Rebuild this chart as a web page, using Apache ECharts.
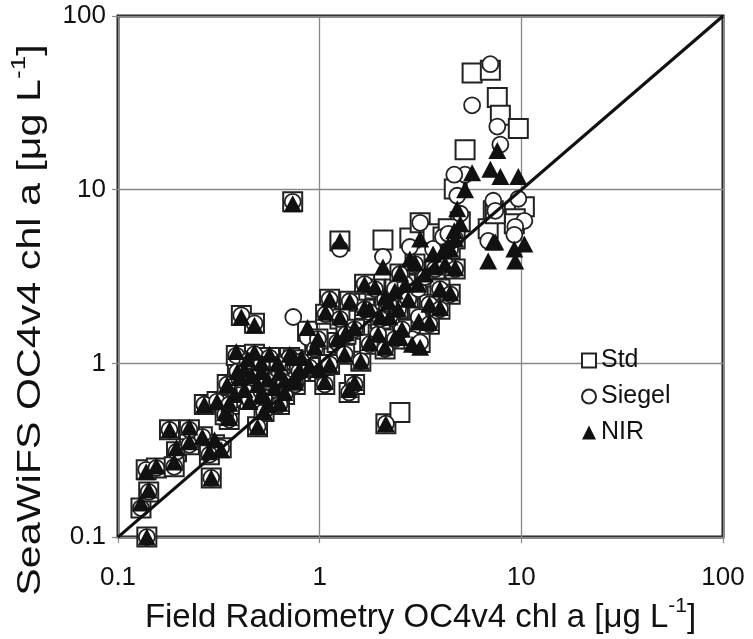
<!DOCTYPE html>
<html>
<head>
<meta charset="utf-8">
<script src="https://cdn.jsdelivr.net/npm/echarts@6/dist/echarts.min.js"></script>
<style>
html,body{margin:0;padding:0;background:#fff;}
#chart{width:753px;height:639px;}
</style>
</head>
<body>
<div id="chart"></div>
<script>
// Field radiometry OC4v4 chl a (x) for each station
const fieldChl = [
 0.098,0.130,0.139,0.142,0.138,0.155,0.180,0.195,0.190,0.226,
 0.262,0.290,0.301,0.325,0.268,0.310,0.284,0.356,0.378,0.409,
 0.475,0.348,0.424,0.449,0.514,0.551,0.391,0.386,0.475,0.564,
 0.710,0.813,0.424,0.514,0.632,0.752,0.492,0.597,0.670,0.735,
 0.740,0.871,0.945,1.00,1.06,1.12,1.41,1.26,1.22,1.60,
 1.40,1.49,1.77,1.95,2.13,2.50,2.06,2.80,3.15,3.65,
 4.09,4.98,7.26,1.67,1.88,2.11,2.36,2.45,2.75,3.08,
 3.33,3.73,4.19,3.10,2.87,3.15,2.56,3.95,4.44,4.70,
 5.26,5.70,7.02,7.60,7.87,9.66,4.81,4.65,4.34,6.85,
 10.35,9.33,9.23,7.43,0.98,1.33,1.12,2.22,2.66,3.50,
 0.492,0.530,
 1.07,1.26,1.49,1.35,1.67,2.00,2.20,1.77,2.11,2.36,
 3.50,3.95,4.44,4.70,2.97,2.50,
 0.439,0.514,0.620,0.400,0.460,0.551,0.670,0.793,0.890,0.530,
 0.632,0.757,0.226,0.340,0.356
];
// SeaWiFS OC4v4 chl a, standard atmospheric correction
const stdChl = [
 0.147,0.147,0.100,0.182,0.244,0.250,0.415,0.310,0.254,0.340,
 0.378,0.219,0.340,0.327,0.580,0.603,0.298,0.475,0.619,1.89,
 1.70,0.756,0.708,0.619,0.689,0.580,0.899,1.11,1.13,1.08,
 1.08,1.03,0.899,0.923,0.864,0.809,0.787,0.708,0.662,8.52,
 1.05,1.53,1.21,0.899,0.756,2.34,2.28,5.07,1.32,1.03,
 0.680,0.756,1.97,1.47,0.450,0.521,5.14,5.28,6.45,5.57,
 5.35,6.53,7.56,2.86,2.68,2.34,2.68,2.05,2.34,2.68,
 3.14,3.49,3.73,1.85,1.38,1.32,1.57,2.68,4.56,5.21,
 17.0,46.9,48.7,34.0,26.8,22.5,10.5,10.1,5.95,5.95,
 7.98,6.80,6.36,7.27,1.38,1.13,0.987,1.85,2.86,2.19,
 0.432,0.528,
 1.92,1.80,1.57,1.47,2.05,1.80,2.19,1.29,1.21,1.38,
 1.68,2.05,2.50,3.49,3.73,3.27,
 1.03,0.987,0.987,0.809,0.830,0.787,0.777,0.899,0.948,0.636,
 0.580,0.757,0.415,0.507,0.580
];
// SeaWiFS OC4v4 chl a, Siegel correction
const siegelChl = [
 0.147,0.147,0.100,0.182,0.244,0.250,0.415,0.310,0.254,0.340,
 0.378,0.219,0.340,0.327,0.580,0.603,0.298,0.475,0.619,1.89,
 1.70,0.756,0.708,0.619,0.689,0.580,0.899,1.11,1.13,1.08,
 1.08,1.03,0.899,0.923,0.864,0.809,0.787,0.708,0.662,8.52,
 1.85,1.41,1.21,0.899,0.756,2.34,2.28,4.56,1.32,1.03,
 0.680,0.756,1.97,1.47,0.450,1.47,4.10,4.68,6.45,4.56,
 5.35,7.27,8.64,2.86,2.68,2.34,2.68,2.05,2.34,2.68,
 3.14,3.49,3.73,1.85,1.38,1.32,1.57,2.68,4.56,5.21,
 12.2,30.6,52.8,23.1,18.2,8.87,9.23,12.2,5.57,5.07,
 6.62,6.11,5.50,7.56,1.38,1.13,0.987,1.85,2.86,2.19,
 0.432,0.528,
 1.92,1.80,1.57,1.47,2.05,1.80,2.19,1.29,1.21,1.38,
 1.68,2.05,2.50,3.49,3.73,3.27,
 1.03,0.987,0.987,0.809,0.830,0.787,0.777,0.899,0.948,0.636,
 0.580,0.757,0.415,0.507,0.580
];
// SeaWiFS OC4v4 chl a, NIR correction
const nirChl = [
 0.147,0.157,0.100,0.187,0.238,0.257,0.415,0.327,0.271,0.354,
 0.378,0.219,0.364,0.318,0.580,0.603,0.310,0.488,0.662,1.85,
 1.66,0.756,0.708,0.603,0.662,0.580,0.899,1.17,1.16,1.13,
 1.13,1.08,0.923,0.899,0.887,0.830,0.756,0.727,0.680,8.30,
 1.08,1.61,1.24,0.923,0.787,2.34,2.28,5.07,1.38,1.03,
 0.708,0.777,2.05,1.47,0.450,1.41,3.59,3.99,5.21,4.27,
 4.44,6.36,5.00,2.86,2.75,2.41,2.61,2.05,2.34,2.86,
 3.27,3.59,3.73,1.75,1.29,1.24,1.57,2.68,4.56,5.21,
 10.0,12.5,13.1,16.8,11.9,11.9,7.77,5.80,4.75,3.89,
 4.87,3.89,4.56,5.00,1.38,1.13,0.987,1.85,2.86,2.19,
 0.432,0.528,
 1.97,1.85,1.61,1.50,2.10,1.85,2.25,1.32,1.24,1.41,
 1.72,2.10,2.55,3.55,3.80,3.33,
 1.06,1.01,1.01,0.83,0.85,0.81,0.80,0.92,0.97,0.65,
 0.59,0.78,0.43,0.52,0.59
];
// 1:1 line
const oneToOneX = [0.1, 100];
const oneToOneY = [0.1, 100];
const tickLabels = ['0.1', '1', '10', '100'];
const seriesNames = ['Std', 'Siegel', 'NIR'];

const pairs = ys => fieldChl.map((x, i) => [x, ys[i]]);
const fontFam = '"Liberation Sans", Arial, Helvetica, sans-serif';
const fmt = v => tickLabels[Math.round(Math.log10(v)) + 1];
const titleRich = {
  t: {fontSize: 33, fontFamily: fontFam, fill: '#111', color: '#111', lineHeight: 38, verticalAlign: 'bottom'},
  s: {fontSize: 21, fontFamily: fontFam, fill: '#111', color: '#111', lineHeight: 38, verticalAlign: 'top', padding: [0, 0, 15, 0]}
};

const chart = echarts.init(document.getElementById('chart'), null, {renderer: 'canvas'});
chart.setOption({
  animation: false,
  backgroundColor: '#fff',
  textStyle: {fontFamily: fontFam, color: '#111'},
  grid: {left: 118, top: 16, right: 30, bottom: 101, show: true,
         borderColor: '#1a1a1a', borderWidth: 3, backgroundColor: 'transparent'},
  legend: {
    orient: 'vertical', left: 576, top: 343, itemGap: 11,
    itemWidth: 14, itemHeight: 14, selectedMode: false,
    textStyle: {fontSize: 25, fontFamily: fontFam, color: '#111'},
    data: seriesNames
  },
  graphic: [{
    type: 'text', x: 28, y: 320, rotation: Math.PI / 2, scaleX: 1.25, scaleY: 1,
    silent: true,
    style: {
      text: '{t|SeaWiFS OC4v4 chl a [μg L}{s|-1}{t|]}',
      rich: titleRich, align: 'center', verticalAlign: 'middle', fill: '#111'
    }
  }],
  xAxis: {
    type: 'log', logBase: 10, min: 0.1, max: 100,
    name: '{t|Field Radiometry OC4v4 chl a [μg L}{s|-1}{t|]}',
    nameLocation: 'middle', nameGap: 52,
    nameTextStyle: {rich: titleRich},
    axisLine: {show: false},
    axisTick: {show: true, length: 6, inside: false, lineStyle: {color: '#888', width: 1.2}},
    axisLabel: {fontSize: 26, color: '#111', margin: 28, formatter: fmt},
    splitLine: {show: true, lineStyle: {color: '#888', width: 1.3}}
  },
  yAxis: {
    type: 'log', logBase: 10, min: 0.1, max: 100,
    axisLine: {show: false},
    axisTick: {show: true, length: 6, inside: false, lineStyle: {color: '#888', width: 1.2}},
    axisLabel: {fontSize: 26, color: '#111', margin: 12, formatter: fmt},
    splitLine: {show: true, lineStyle: {color: '#888', width: 1.3}}
  },
  series: [
    {name: 'Std', type: 'scatter', symbol: 'rect', symbolSize: 19, z: 2,
     itemStyle: {color: '#fff', borderColor: '#222', borderWidth: 2, opacity: 1},
     data: pairs(stdChl)},
    {name: 'Siegel', type: 'scatter', symbol: 'circle', symbolSize: 16, z: 3,
     itemStyle: {color: '#fff', borderColor: '#222', borderWidth: 1.8, opacity: 1},
     data: pairs(siegelChl)},
    {name: 'NIR', type: 'scatter', symbol: 'triangle', symbolSize: [18, 17], z: 4,
     itemStyle: {color: '#111', borderColor: '#111', borderWidth: 0, opacity: 1},
     data: pairs(nirChl)},
    {name: '1:1', type: 'line', z: 5, symbol: 'none', silent: true,
     lineStyle: {color: '#111', width: 3.2},
     data: oneToOneX.map((x, i) => [x, oneToOneY[i]])}
  ]
});
</script>
</body>
</html>
